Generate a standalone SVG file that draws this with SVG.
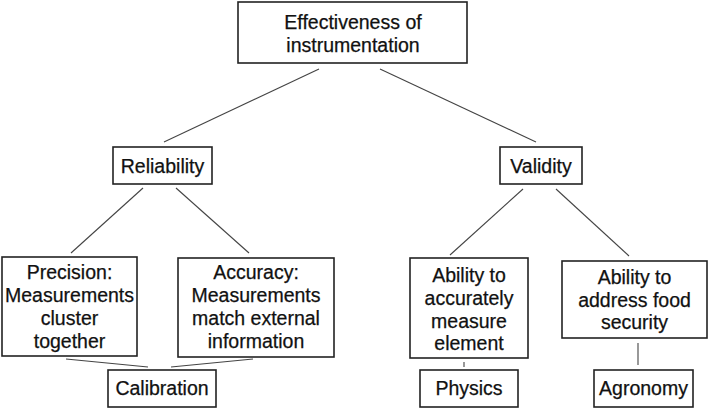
<svg xmlns="http://www.w3.org/2000/svg" width="708" height="408" viewBox="0 0 708 408">
<style>
.box{fill:#fff;stroke:#222;stroke-width:1.6}
.t{font-family:"Liberation Sans",Arial,sans-serif;font-size:19.5px;fill:#111;text-anchor:middle;stroke:#111;stroke-width:0.25}
.c line{stroke:#444;stroke-width:1.1}
</style>
<rect width="708" height="408" fill="#fff"/>
<g class="c" id="connectors">
<line x1="319" y1="69" x2="164" y2="142"/>
<line x1="380" y1="69" x2="536" y2="142"/>
<line x1="143" y1="188" x2="71" y2="253"/>
<line x1="176" y1="188" x2="249" y2="253"/>
<line x1="523" y1="189" x2="450" y2="255"/>
<line x1="556" y1="189" x2="629" y2="256"/>
<line x1="66" y1="359" x2="148" y2="367"/>
<line x1="171" y1="367" x2="253" y2="359"/>
<line x1="464" y1="362" x2="464" y2="367"/>
<line x1="638" y1="343" x2="638" y2="365"/>
</g>
<g id="effectiveness">
<rect class="box" x="238" y="2" width="229" height="61"/>
<text class="t" x="353" y="29">Effectiveness of</text>
<text class="t" x="353" y="52">instrumentation</text>
</g>
<g id="reliability">
<rect class="box" x="113" y="147" width="99" height="37"/>
<text class="t" x="162.5" y="173">Reliability</text>
</g>
<g id="validity">
<rect class="box" x="500" y="147" width="82" height="37"/>
<text class="t" x="541" y="173">Validity</text>
</g>
<g id="precision">
<rect class="box" x="2" y="257" width="135" height="99"/>
<text class="t" x="69.5" y="279">Precision:</text>
<text class="t" x="69.5" y="302">Measurements</text>
<text class="t" x="69.5" y="325">cluster</text>
<text class="t" x="69.5" y="348">together</text>
</g>
<g id="accuracy">
<rect class="box" x="178" y="258" width="156" height="99"/>
<text class="t" x="256" y="279">Accuracy:</text>
<text class="t" x="256" y="302">Measurements</text>
<text class="t" x="256" y="325">match external</text>
<text class="t" x="256" y="348">information</text>
</g>
<g id="ability-measure">
<rect class="box" x="410" y="258" width="118" height="100"/>
<text class="t" x="469" y="282">Ability to</text>
<text class="t" x="469" y="305">accurately</text>
<text class="t" x="469" y="328">measure</text>
<text class="t" x="469" y="350">element</text>
</g>
<g id="ability-food">
<rect class="box" x="562" y="261" width="145" height="77"/>
<text class="t" x="634.5" y="284">Ability to</text>
<text class="t" x="634.5" y="307">address food</text>
<text class="t" x="634.5" y="329">security</text>
</g>
<g id="calibration">
<rect class="box" x="108" y="370" width="108" height="37"/>
<text class="t" x="162" y="395">Calibration</text>
</g>
<g id="physics">
<rect class="box" x="420" y="370" width="98" height="37"/>
<text class="t" x="469" y="395">Physics</text>
</g>
<g id="agronomy">
<rect class="box" x="594" y="370" width="99" height="37"/>
<text class="t" x="643.5" y="395">Agronomy</text>
</g>
</svg>
